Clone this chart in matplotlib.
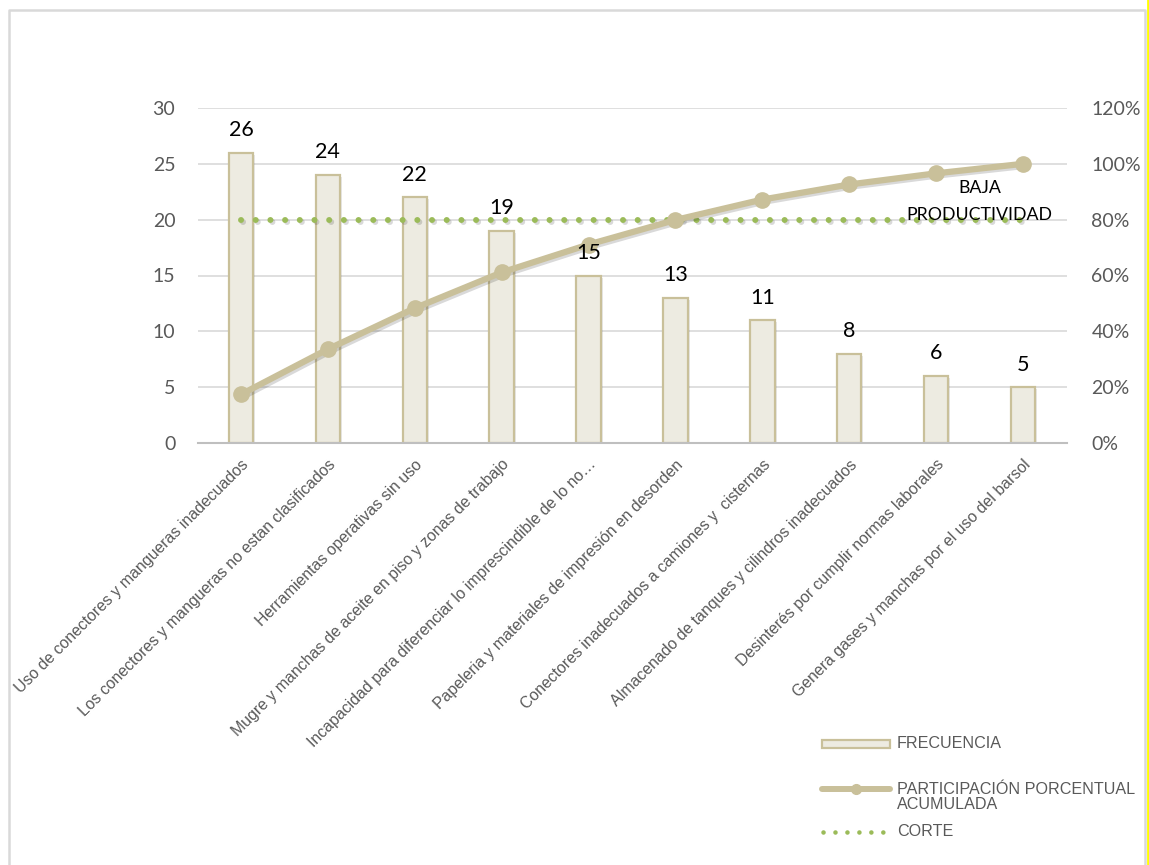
import matplotlib.pyplot as plt, numpy as np
from matplotlib.lines import Line2D
from matplotlib.patches import Rectangle
from matplotlib.ticker import PercentFormatter
import matplotlib.patheffects as pe

causas = ['Uso de conectores y mangueras inadecuados',
          'Los conectores y mangueras no estan clasificados',
          'Herramientas operativas sin uso',
          'Mugre y manchas de aceite en piso y zonas de trabajo',
          'Incapacidad para diferenciar lo imprescindible de lo no…',
          'Papeleria y materiales de impresión en desorden',
          'Conectores inadecuados a camiones y  cisternas',
          'Almacenado de tanques y cilindros inadecuados',
          'Desinterés por cumplir normas laborales',
          'Genera gases y manchas por el uso del barsol']
frecuencia = [26, 24, 22, 19, 15, 13, 11, 8, 6, 5]
acumulado = [0.174, 0.336, 0.483, 0.611, 0.711, 0.799, 0.872, 0.926, 0.966, 1.0]
corte = [0.8] * 10

gris = '#595959'
beige = '#C9C09A'
relleno = '#EDEBE1'
verde = '#9BBB59'
calibri = ['Lato', 'DejaVu Sans']
arial = ['Liberation Sans', 'DejaVu Sans']

fig = plt.figure(figsize=(11.49, 8.65), dpi=100)
ax = fig.add_axes([197.5 / 1149, 1 - 443 / 865, 869 / 1149, 335 / 865])
ax2 = ax.twinx()

pos = np.arange(len(causas))
sombra_barra = [pe.SimplePatchShadow(offset=(1.5, -1.5), alpha=0.12), pe.Normal()]
ax.bar(pos, frecuencia, 0.28, color=relleno, edgecolor=beige, linewidth=1.6,
       zorder=2, path_effects=sombra_barra)

ax.set_xlim(-0.5, 9.5)
ax.set_ylim(0, 30)
ax.set_yticks(range(0, 31, 5))
ax.yaxis.grid(True, color='#D9D9D9', linewidth=1.2)
ax.set_axisbelow(True)
for s in ['top', 'left', 'right']:
    ax.spines[s].set_visible(False)
ax.spines['bottom'].set_color('#BFBFBF')
ax.spines['bottom'].set_linewidth(1.5)
ax.tick_params(axis='both', length=0)
ax.tick_params(axis='y', labelsize=14, labelcolor=gris, pad=16)
for t in ax.get_yticklabels():
    t.set_family(calibri)
ax.set_xticks(pos)
ax.set_xticklabels(causas, rotation=45, ha='right', rotation_mode='anchor',
                   fontsize=11.4, color=gris, family=arial)
ax.tick_params(axis='x', pad=10)

sombra = [pe.SimpleLineShadow(offset=(1.5, -1.5), alpha=0.15), pe.Normal()]
ax2.plot(pos, corte, color=verde, linewidth=4.3, linestyle=(0, (0.01, 2.45)),
         dash_capstyle='round', zorder=3, path_effects=sombra)
ax2.plot(pos, acumulado, color=beige, linewidth=4.5, zorder=4, path_effects=sombra)
ax2.plot(pos, acumulado, color=beige, linestyle='none', marker='o', markersize=11, zorder=5)
ax2.set_ylim(0, 1.2)
ax2.set_yticks(np.arange(0, 1.21, 0.2))
ax2.yaxis.set_major_formatter(PercentFormatter(1.0, decimals=0))
ax2.tick_params(axis='y', length=0, labelsize=14, labelcolor=gris, pad=18)
for t in ax2.get_yticklabels():
    t.set_family(calibri)
for s in ax2.spines.values():
    s.set_visible(False)

# etiquetas de frecuencia sobre la linea
for x, v in zip(pos, frecuencia):
    ax2.annotate(str(v), (x, v), xycoords=ax.transData, xytext=(0, 9),
                 textcoords='offset points', ha='center', va='bottom',
                 fontsize=15.5, family=calibri, color='black', zorder=6)

ax2.text(8.5, 0.915, 'BAJA', ha='center', va='center', fontsize=12.8, family=calibri, zorder=6)
ax2.text(8.5, 0.815, 'PRODUCTIVIDAD', ha='center', va='center', fontsize=12.8,
         family=calibri, zorder=6)

# leyenda
def fx(px):
    return px / 1149
def fy(py):
    return 1 - py / 865

fig.patches.append(Rectangle((fx(822), fy(748)), fx(68), 8 / 865, transform=fig.transFigure,
                             facecolor=relleno, edgecolor=beige, linewidth=1.6))
fig.add_artist(Line2D([fx(822), fx(890)], [fy(789)] * 2, color=beige, linewidth=4.3,
                      solid_capstyle='round'))
fig.add_artist(Line2D([fx(856)], [fy(789)], color=beige, marker='o', markersize=7))
fig.add_artist(Line2D([fx(823), fx(888)], [fy(832)] * 2, color=verde, linewidth=3.3,
                      linestyle=(0, (0.01, 2.6)), dash_capstyle='round'))
fig.text(fx(897), fy(744), 'FRECUENCIA', va='center', fontsize=11.6, color=gris, family=arial)
fig.text(fx(897), fy(797), 'PARTICIPACIÓN PORCENTUAL\nACUMULADA', va='center', fontsize=11.6,
         color=gris, family=arial, linespacing=0.95)
fig.text(fx(897), fy(832), 'CORTE', va='center', fontsize=11.6, color=gris, family=arial)

# marco
fig.add_artist(Line2D([fx(8.5), fx(8.5), fx(1145), fx(1145)], [0, fy(9.5), fy(9.5), 0],
                      color='#D9D9D9', linewidth=1.8))
fig.add_artist(Line2D([fx(1147.5)] * 2, [0, 1], color='#FFFF00', linewidth=2))

plt.savefig('out.png', dpi=100)
